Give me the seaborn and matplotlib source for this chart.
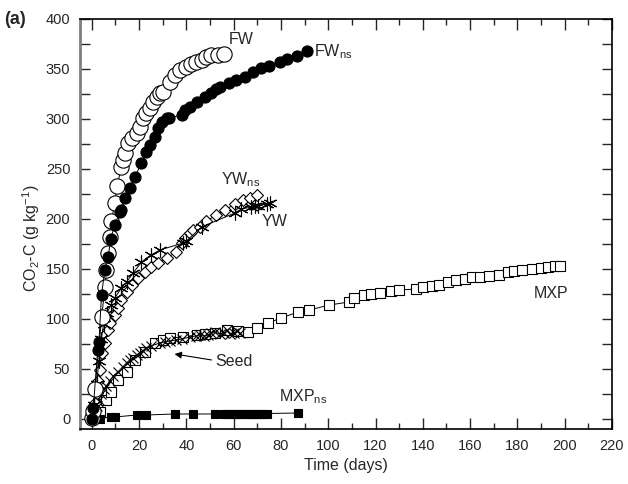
import matplotlib
matplotlib.use("Agg")
import matplotlib.pyplot as plt
from matplotlib.ticker import MultipleLocator
import seaborn as sns
import pandas as pd

# data (days, g CO2-C per kg)
fw_days = [0, 0.6, 1.3, 4.2, 5.5, 6.2, 6.9, 7.6, 8.3, 9.7, 10.7, 12.5, 13.2, 14, 15.4, 16.8,
           18.9, 20.3, 21.7, 23, 24.5, 26, 27.4, 28.8, 30, 33, 35, 37.2, 40, 42, 44, 46.4,
           48.5, 50.6, 53.5, 56]
fw_vals = [1, 8, 30, 102, 132, 149, 166, 182, 198, 216, 233, 252, 259, 266, 276, 281,
           286, 292, 301, 306, 311, 317, 322, 326, 327, 337, 344, 349, 352, 355, 357, 359,
           362, 364, 364, 365]

fwns_days = [0, 0.6, 2.5, 3, 4.1, 5.5, 6.9, 8, 9.7, 11.8, 12.5, 14, 16, 18.2, 21, 23, 24.5,
             26.6, 28, 29.5, 31.6, 32.5, 38, 39.3, 41.5, 44.3, 47.8, 50.5, 52.5, 54, 58, 61,
             64.7, 68, 71.5, 75, 79.5, 82.4, 86.6, 90.8]
fwns_vals = [0, 11, 69, 77, 124, 149, 162, 180, 194, 207, 209, 221, 231, 242, 256, 267, 274,
             282, 291, 297, 301, 301, 304, 309, 312, 317, 322, 326, 330, 332, 336, 339,
             342, 347, 351, 353, 357, 360, 363, 368]

ywns_days = [0, 0.6, 1.3, 2, 2.7, 3.4, 4.1, 5.5, 6.9, 7.6, 9.7, 11, 12.5, 14.7, 16.8, 19.6,
             22.4, 25, 28, 31.6, 35.8, 38, 39.3, 41.5, 43, 45.7, 48.5, 52.7, 56.3, 60.5, 64,
             66.8, 69.7]
ywns_vals = [0, 7, 16, 26, 38, 49, 66, 76, 89, 96, 104, 111, 119, 127, 134, 141,
             147, 152, 156, 161, 167, 176, 181, 186, 189, 192, 198, 204, 209, 215, 219,
             221, 224]

yw_days = [0, 1, 2, 3, 4, 5, 6.5, 8, 9.7, 12.5, 14.7, 17.5, 21, 25, 28.8, 38.6, 40, 46.4,
           60.5, 63.3, 67.5, 69, 70.4, 74, 75.3]
yw_vals = [0, 14, 35, 58, 80, 95, 106, 114, 121, 131, 137, 146, 157, 164, 169, 176, 178, 192,
           206, 210, 212, 213, 213, 215, 216]

seed_days = [0, 1, 2, 3, 4, 5, 6.2, 7.6, 9, 11, 13, 14.7, 16, 17.5, 19, 20.3, 21.5, 23, 25,
             28.8, 31, 33, 35.8, 38, 41.5, 44, 45.7, 47.5, 49, 50.5, 52, 54, 56, 57, 58.5,
             60, 61.5, 62.6]
seed_vals = [0, 6, 13, 19, 25, 30, 33, 38, 43, 47, 52, 56, 59, 61, 64, 66, 68, 71, 73,
             76, 77, 78, 79, 80, 82, 83, 84, 83, 84, 86, 87, 85, 86, 89, 85,
             86, 88, 86]

mxp_days = [0, 3.4, 6.2, 8.3, 11, 14.7, 18.2, 22.4, 26.6, 30, 33, 38.6, 44.3, 48, 52, 57, 62,
            66, 70, 74.6, 80, 87.3, 92, 100.4, 108.8, 111, 115, 118, 122, 126.5, 130, 137,
            140, 144, 147, 150.7, 154, 158, 161, 164, 168, 172, 176, 178.7, 182, 186, 190,
            193, 196, 198]
mxp_vals = [0, 7, 19, 27, 39, 47, 59, 67, 76, 79, 81, 82, 84, 85, 86, 89, 88,
            87, 91, 96, 101, 107, 109, 114, 117, 121, 124, 125, 126, 128, 129, 130,
            132, 133, 134, 137, 139, 140, 142, 142, 143, 144, 147, 148, 149, 150, 151,
            152, 153, 153]

mxpns_days = [0, 3.4, 8.3, 9.7, 19, 23, 35, 43, 52, 56, 57.5, 59, 60.5, 62, 63.5, 65, 66.5,
              68, 69.5, 71, 72.5, 74, 87.3]
mxpns_vals = [0, 0.5, 2, 2, 4, 4, 5, 5, 5, 5.5, 5.5, 5.5, 5.5, 5.5, 5.5, 5.5, 5.5,
              5.5, 5.5, 5.5, 5.5, 5.5, 6]

sns.set_style("ticks")
plt.rcParams['font.family'] = ['Liberation Sans', 'DejaVu Sans']
plt.rcParams['mathtext.default'] = 'regular'

fig = plt.figure(figsize=(6.28, 4.84), dpi=100)
ax = fig.add_axes([80 / 628, 55 / 484, 532 / 628, 410 / 484])

series = [
    (mxp_days, mxp_vals, dict(marker='s', markersize=7, markerfacecolor='white')),
    (mxpns_days, mxpns_vals, dict(marker='s', markersize=6, markerfacecolor='black')),
    (seed_days, seed_vals, dict(marker='x', markersize=7, markeredgewidth=0.8)),
    (ywns_days, ywns_vals, dict(marker='D', markersize=6.5, markerfacecolor='white')),
    (yw_days, yw_vals, dict(marker=(6, 2, 0), markersize=10, markeredgewidth=0.8)),
    (fw_days, fw_vals, dict(marker='o', markersize=11, markerfacecolor='white')),
    (fwns_days, fwns_vals, dict(marker='o', markersize=8, markerfacecolor='black')),
]
for d, v, style in series:
    df = pd.DataFrame({"day": d, "co2": v})
    style.setdefault('markeredgewidth', 0.8)
    sns.lineplot(data=df, x="day", y="co2", ax=ax, color='black', linewidth=0.7,
                 estimator=None, sort=False, markeredgecolor='black', **style)

ax.set_xlim(-5, 220)
ax.set_ylim(-10, 400)
ax.xaxis.set_major_locator(MultipleLocator(20))
ax.xaxis.set_minor_locator(MultipleLocator(10))
ax.yaxis.set_major_locator(MultipleLocator(50))
ax.yaxis.set_minor_locator(MultipleLocator(25))
ax.tick_params(which='both', direction='in', top=True, right=True, labelsize=10.5, width=1)
ax.tick_params(axis='x', which='major', length=8, pad=7)
ax.tick_params(axis='x', which='minor', length=4)
ax.tick_params(axis='y', which='both', length=7, pad=7)
for s in ax.spines.values():
    s.set_linewidth(1.2)
    s.set_color('black')
ax.spines['left'].set_color('#7f7f7f')
ax.spines['left'].set_linewidth(2)

ax.set_xlabel("Time (days)", fontsize=11.5, labelpad=4)
ax.set_ylabel("")
fig.text(31 / 628, 1 - 238 / 484, "CO$_2$-C (g kg$^{-1}$)", rotation=90,
         ha='center', va='center', fontsize=11.5)
fig.text(4 / 628, 1 - 19 / 484, "(a)", fontsize=13, fontweight='bold', ha='left', va='center')

lab = dict(fontsize=11.5, va='center')
ax.text(58, 380, "FW", ha='left', **lab)
ax.text(94, 367, "FW$_{ns}$", ha='left', **lab)
ax.text(54.5, 239, "YW$_{ns}$", ha='left', **lab)
ax.text(72, 197, "YW", ha='left', **lab)
ax.text(187, 126, "MXP", ha='left', **lab)
ax.text(79, 22, "MXP$_{ns}$", ha='left', **lab)
ax.annotate("Seed", xy=(35, 65), xytext=(52, 57), ha='left', va='center', fontsize=11.5,
            arrowprops=dict(arrowstyle='-|>', color='black', lw=0.8, mutation_scale=10,
                            shrinkA=0, shrinkB=0, relpos=(0, 0.6)))

fig.savefig("out.png", dpi=100)
